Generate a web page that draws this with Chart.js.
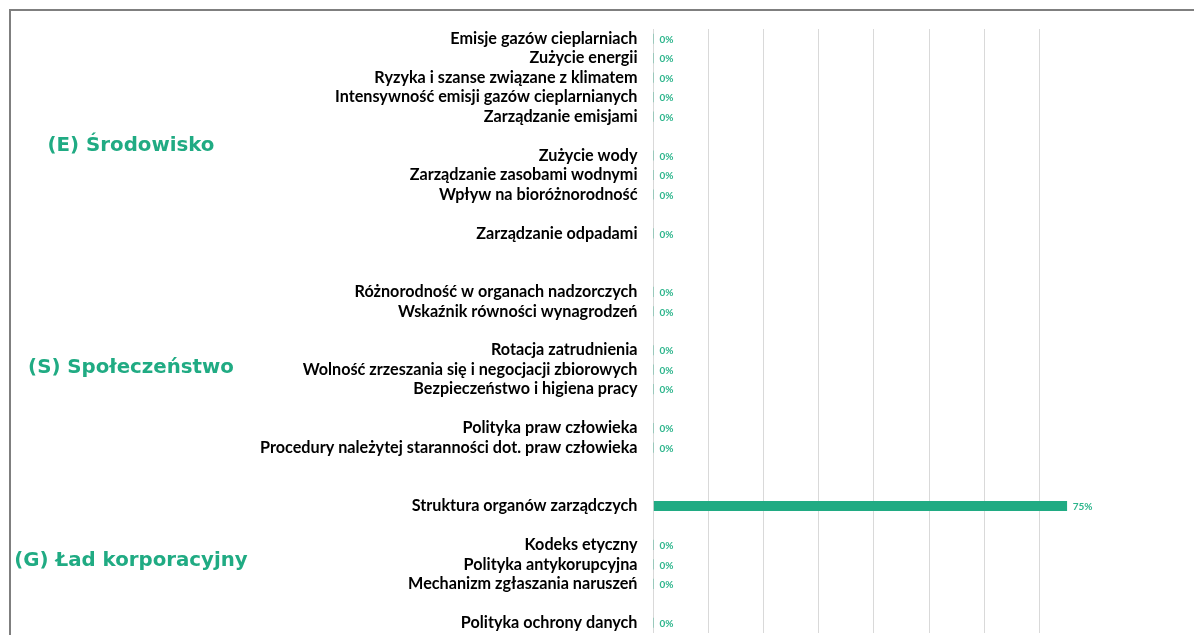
<!DOCTYPE html>
<html>
<head>
<meta charset="utf-8">
<script src="https://cdn.jsdelivr.net/npm/chart.js@4/dist/chart.umd.min.js"></script>
<style>
  html, body { margin: 0; padding: 0; background: #fff; overflow: hidden; }
  #wrap { position: relative; width: 1194px; height: 635px; overflow: hidden; }
  #frame { position: absolute; left: 9px; top: 9px; width: 1300px; height: 700px;
           border-left: 2px solid #7f7f7f; border-top: 2px solid #7f7f7f; }
  #box { position: absolute; left: 0; top: 0; width: 1210px; height: 635px; }
</style>
</head>
<body>
<div id="wrap">
  <div id="frame"></div>
  <div id="box"><canvas id="c"></canvas></div>
</div>
<script>
// ---- data ----
const categories = [
  "Emisje gazów cieplarniach",
  "Zużycie energii",
  "Ryzyka i szanse związane z klimatem",
  "Intensywność emisji gazów cieplarnianych",
  "Zarządzanie emisjami",
  "",
  "Zużycie wody",
  "Zarządzanie zasobami wodnymi",
  "Wpływ na bioróżnorodność",
  "",
  "Zarządzanie odpadami",
  "",
  "",
  "Różnorodność w organach nadzorczych",
  "Wskaźnik równości wynagrodzeń",
  "",
  "Rotacja zatrudnienia",
  "Wolność zrzeszania się i negocjacji zbiorowych",
  "Bezpieczeństwo i higiena pracy",
  "",
  "Polityka praw człowieka",
  "Procedury należytej staranności dot. praw człowieka",
  "",
  "",
  "Struktura organów zarządczych",
  "",
  "Kodeks etyczny",
  "Polityka antykorupcyjna",
  "Mechanizm zgłaszania naruszeń",
  "",
  "Polityka ochrony danych"
];
const values = [
  0, 0, 0, 0, 0, null,
  0, 0, 0, null,
  0, null, null,
  0, 0, null,
  0, 0, 0, null,
  0, 0, null, null,
  0.75, null,
  0, 0, 0, null,
  0
];
const sectionLabels = ["(E) Środowisko", "(S) Społeczeństwo", "(G) Ład korporacyjny"];
const sectionAnchors = [5.5, 16.9, 26.8];   // category index where each section title sits
const gridMax = 0.7;

const GREEN = "#20ab83";

const valueLabels = {
  id: "valueLabels",
  afterDatasetsDraw(chart) {
    const ctx = chart.ctx;
    const meta = chart.getDatasetMeta(0);
    ctx.save();
    ctx.font = "bold 10px Lato";
    ctx.fillStyle = "#2db58c";
    ctx.textAlign = "left";
    ctx.textBaseline = "middle";
    meta.data.forEach((bar, i) => {
      const v = values[i];
      if (v === null || v === undefined) return;
      const txt = Math.round(v * 100) + "%";
      ctx.fillText(txt, bar.x + 6, bar.y + 1);
    });
    ctx.restore();
  }
};

const sectionTitles = {
  id: "sectionTitles",
  afterDraw(chart) {
    const ctx = chart.ctx;
    const y = chart.scales.y;
    ctx.save();
    ctx.font = "bold 19.8px 'DejaVu Sans'";
    ctx.fillStyle = GREEN;
    ctx.textAlign = "center";
    ctx.textBaseline = "middle";
    sectionLabels.forEach((t, i) => {
      ctx.fillText(t, 131, y.getPixelForValue(sectionAnchors[i]));
    });
    ctx.restore();
  }
};

const chart = new Chart(document.getElementById("c"), {
  type: "bar",
  data: {
    labels: categories,
    datasets: [{
      data: values,
      backgroundColor: GREEN,
      borderWidth: 0,
      barThickness: 9.5
    }]
  },
  options: {
    indexAxis: "y",
    responsive: true,
    maintainAspectRatio: false,
    animation: false,
    layout: { padding: { top: 29, bottom: 2.5, left: 0, right: 5.5 } },
    plugins: { legend: { display: false }, tooltip: { enabled: false } },
    scales: {
      x: {
        min: 0, max: 1,
        position: "bottom",
        ticks: { display: false, stepSize: 0.1 },
        grid: {
          drawTicks: false,
          color: (c) => (c.tick && c.tick.value <= gridMax + 1e-9) ? "#d9d9d9" : "rgba(0,0,0,0)",
          lineWidth: 1
        },
        border: { display: false },
        afterFit: (s) => { s.height = 0; s.paddingLeft = 0; s.paddingRight = 0; }
      },
      y: {
        grid: { display: false, drawTicks: false },
        border: { display: false },
        ticks: {
          autoSkip: false,
          padding: 16,
          color: "#000",
          font: { family: "Lato", weight: "bold", size: 16.2 }
        },
        afterFit: (s) => { s.width = 653.5; s.paddingTop = 0; s.paddingBottom = 0; }
      }
    }
  },
  plugins: [valueLabels, sectionTitles]
});
</script>
</body>
</html>
